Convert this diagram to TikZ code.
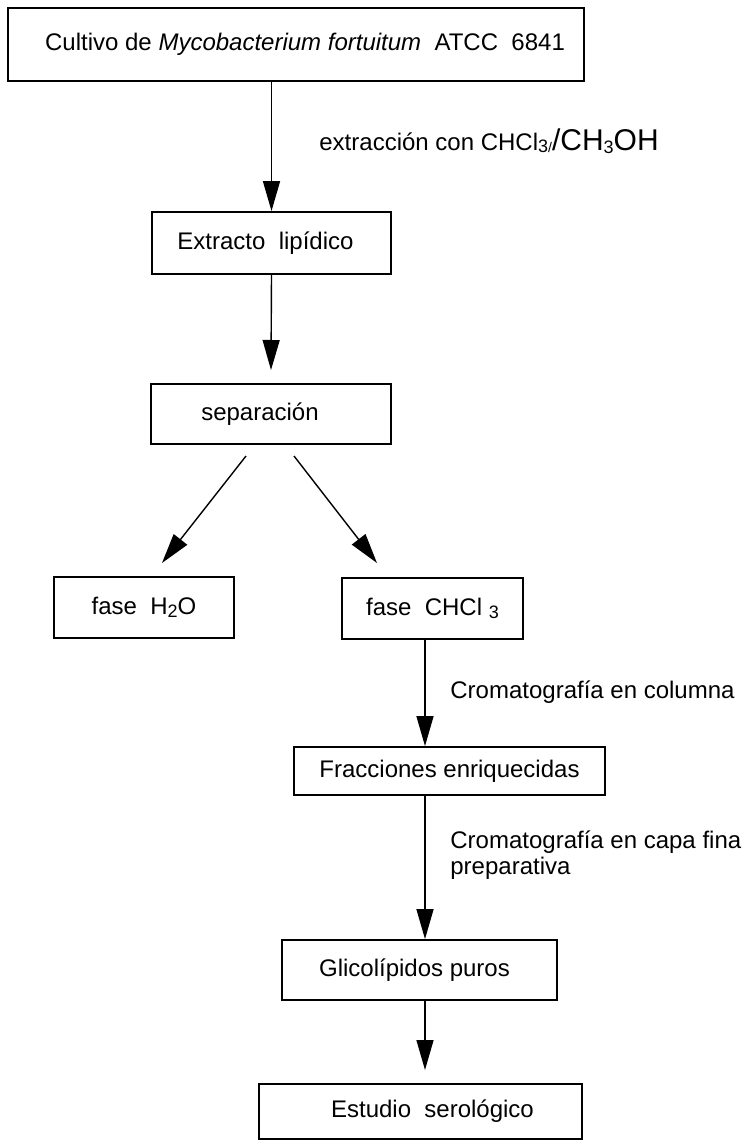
\documentclass[tikz,border=0pt]{standalone}
\usepackage{fontspec}
\setmainfont{Liberation Sans}
\usetikzlibrary{arrows.meta}
\tikzstyle{box}=[draw=black,line width=0.9pt,inner sep=0pt,font=\fontsize{12}{14}\selectfont]
\tikzstyle{lbl}=[inner sep=0pt,anchor=west,align=left,font=\fontsize{12}{13}\selectfont]
\tikzstyle{arr}=[line width=0.7pt,-{Triangle[length=15pt,width=8.5pt]}]
\newcommand{\sub}[1]{\raisebox{-0.2ex}{\fontsize{9}{9}\selectfont #1}}

\begin{document}
\begin{tikzpicture}[x=0.5pt,y=-0.5pt]
\useasboundingbox (0,0) rectangle (744,1141);
		\node [style=box, minimum width=288pt, minimum height=36.5pt] (0) at (296,44.5) {\hspace*{9pt}Cultivo de \textit{Mycobacterium fortuitum}\ \ ATCC\ \ 6841};
		\node [style=box, minimum width=119.5pt, minimum height=31pt] (1) at (271.5,243) {Extracto\ \ lipídico\hspace*{6pt}};
		\node [style=box, minimum width=120pt, minimum height=30pt] (2) at (271,414) {separación\hspace*{11pt}};
		\node [style=box, minimum width=90pt, minimum height=30.5pt] (3) at (144,607.5) {fase\ \ H\sub{2}O};
		\node [style=box, minimum width=90.5pt, minimum height=30.5pt] (4) at (432.5,608.5) {fase\ \ CHCl \sub{3}};
		\node [style=box, minimum width=155.5pt, minimum height=24pt] (5) at (449.5,771) {Fracciones enriquecidas};
		\node [style=box, minimum width=137.5pt, minimum height=30pt] (6) at (419.5,970) {Glicolípidos puros\hspace*{5pt}};
		\node [style=box, minimum width=161.5pt, minimum height=27.5pt] (7) at (420.5,1111.5) {\hspace*{12pt}Estudio\ \ serológico};
		\node [style=lbl] (8) at (319,141) {extracción con CHCl\sub{3}\raisebox{-0.2ex}{\fontsize{7}{7}\selectfont /}{\fontsize{15}{16}\selectfont /CH\sub{3}OH}};
		\node [style=lbl] (9) at (450,692) {Cromatografía en columna};
		\node [style=lbl] (10) at (450,855) {Cromatografía en capa fina\\preparativa};
		\coordinate (t2) at (271,370);
		\coordinate (d1) at (246,456);
		\coordinate (d2) at (162,563);
		\coordinate (d3) at (294,456);
		\coordinate (d4) at (377,563);
		\coordinate (c) at (425,0);
		\coordinate (t7) at (425,1070);
		\draw [style=arr] (0.south -| 1.north) to (1.north);
		\draw [style=arr] (1.south) to (t2);
		\draw [style=arr] (d1) to (d2);
		\draw [style=arr] (d3) to (d4);
		\draw [style=arr] (4.south -| c) to (5.north -| c);
		\draw [style=arr] (5.south -| c) to (6.north -| c);
		\draw [style=arr] (6.south -| c) to (t7);
\end{tikzpicture}
\end{document}
